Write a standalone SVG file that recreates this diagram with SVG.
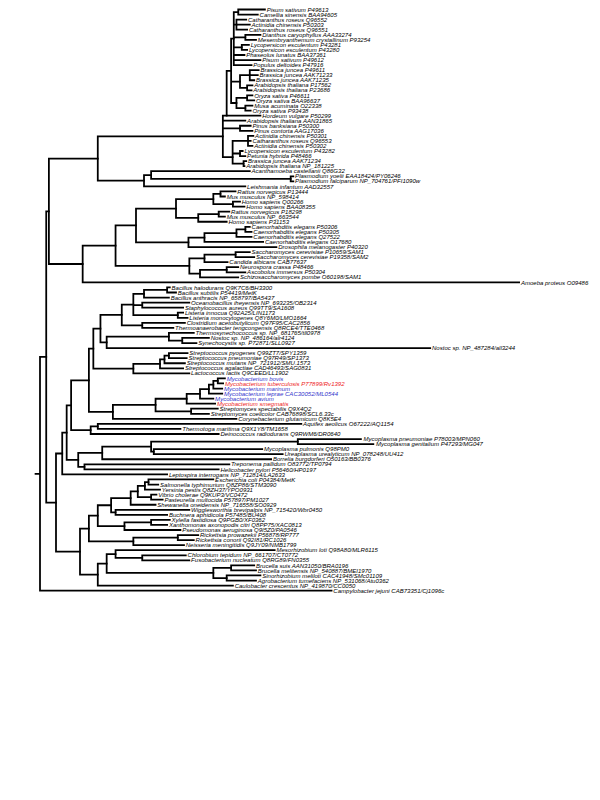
<svg xmlns="http://www.w3.org/2000/svg" width="600" height="800" viewBox="0 0 600 800">
<style>
text{font-family:"Liberation Sans",Arial,sans-serif;font-size:6.8px;font-style:italic;fill:#000}
.b{fill:#3333cc}.r{fill:#ee2222}
#connectors path{fill:none;stroke:#000;stroke-width:2;stroke-linecap:square}
</style>
<rect width="600" height="800" fill="#fff"/>
<g transform="scale(0.88889)">
<g id="connectors">
<path d="M268 10.7V16.39M268 10.7H298M268 16.39H290"/>
<path d="M266 22.07V33.44M266 22.07H277M266 27.76H281M266 33.44H278"/>
<path d="M276 39.13V44.81M276 39.13H293M276 44.81H288"/>
<path d="M272 50.5V56.18M272 50.5H280M272 56.18H278"/>
<path d="M263 13.55V73.24M263 13.55H268M263 27.76H266M263 41.97H276M263 53.34H272M263 61.87H275M263 67.55H293M263 73.24H283"/>
<path d="M281 78.92V90.29M281 78.92H291M281 84.61H290M281 90.29H286"/>
<path d="M278 95.98V101.66M278 95.98H284M278 101.66H283"/>
<path d="M270 84.6V98.82M270 84.6H281M270 98.82H278"/>
<path d="M278 107.35V113.03M278 107.35H284M278 113.03H286"/>
<path d="M276 118.72V124.4M276 118.72H284M276 124.4H282"/>
<path d="M266 110.19V121.56M266 110.19H278M266 121.56H276"/>
<path d="M260 43.4V115.88M260 43.4H263M260 91.71H270M260 115.88H266"/>
<path d="M255 79.64V130.09M255 79.64H260M255 130.09H293"/>
<path d="M250.7 130.09V176.7M250.7 130.09H255M250.7 135.77H276M250.7 144.3H270M250.7 176.7H261.7"/>
<path d="M270 141.46V147.14M270 141.46H282M270 147.14H284"/>
<path d="M279 152.83V164.2M279 152.83H285M279 158.51H282M279 164.2H284"/>
<path d="M270 169.88V175.57M270 169.88H273M270 175.57H276"/>
<path d="M274 181.25V186.94M274 181.25H277M274 186.94H275"/>
<path d="M261.7 158.5V184.1M261.7 158.5H279M261.7 172.7H270M261.7 184.1H274"/>
<path d="M327 198.31V203.99M327 198.31H330M327 203.99H330"/>
<path d="M170 192.62V201.15M170 192.62H281M170 201.15H327"/>
<path d="M162 196.9V209.68M162 196.9H170M162 209.68H276"/>
<path d="M110 153.4V203.3M110 153.4H250.7M110 203.3H162"/>
<path d="M248 215.36V221.05M248 215.36H265M248 221.05H253"/>
<path d="M262 226.73V232.42M262 226.73H270M262 232.42H275"/>
<path d="M240 218.2V229.6M240 218.2H248M240 229.6H262"/>
<path d="M246 238.1V243.79M246 238.1H258M246 243.79H253"/>
<path d="M223 240.9V249.47M223 240.9H246M223 249.47H255"/>
<path d="M198 223.9V245.2M198 223.9H240M198 245.2H223"/>
<path d="M276 255.16V260.84M276 255.16H281M276 260.84H283"/>
<path d="M266 258V266.53M266 258H276M266 266.53H283"/>
<path d="M230 262.3V272.21M230 262.3H266M230 272.21H296"/>
<path d="M212 267.3V277.9M212 267.3H230M212 277.9H311"/>
<path d="M153 234.6V272.6M153 234.6H198M153 272.6H212"/>
<path d="M265 283.58V289.27M265 283.58H281M265 289.27H286"/>
<path d="M230 286.4V294.95M230 286.4H265M230 294.95H256"/>
<path d="M255 300.64V306.32M255 300.64H268M255 306.32H276"/>
<path d="M225 303.5V312.01M225 303.5H255M225 312.01H268"/>
<path d="M213 290.7V307.8M213 290.7H230M213 307.8H225"/>
<path d="M130 253.6V299.2M130 253.6H153M130 299.2H213"/>
<path d="M93 276.4V317.69M93 276.4H130M93 317.69H584"/>
<path d="M55 178.4V297M55 178.4H110M55 297H93"/>
<path d="M188 323.38V329.06M188 323.38H191M188 329.06H198"/>
<path d="M162 326.2V334.75M162 326.2H188M162 334.75H190"/>
<path d="M160 340.43V346.12M160 340.43H213M160 346.12H206"/>
<path d="M200 351.8V357.49M200 351.8H206M200 357.49H211"/>
<path d="M150 330.5V354.6M150 330.5H162M150 343.3H160M150 354.6H200"/>
<path d="M160 363.17V368.86M160 363.17H208M160 368.86H195"/>
<path d="M137 342.6V366M137 342.6H150M137 366H160"/>
<path d="M205 380.23V385.91M205 380.23H235M205 385.91H221"/>
<path d="M190 374.54V383.1M190 374.54H218M190 383.1H205"/>
<path d="M120 378.8V391.6M120 378.8H190M120 391.6H484"/>
<path d="M113 354.3V385.2M113 354.3H137M113 385.2H120"/>
<path d="M190 397.28V402.97M190 397.28H211M190 402.97H210"/>
<path d="M185 400.1V408.65M185 400.1H190M185 408.65H208"/>
<path d="M180 404.4V414.34M180 404.4H185M180 414.34H206"/>
<path d="M150 409.4V420.02M150 409.4H180M150 420.02H213"/>
<path d="M105 369.8V414.7M105 369.8H113M105 414.7H150"/>
<path d="M245 425.71V431.39M245 425.71H253M245 431.39H251"/>
<path d="M240 428.6V437.08M240 428.6H245M240 437.08H250"/>
<path d="M235 432.8V442.76M235 432.8H240M235 442.76H250"/>
<path d="M225 437.8V448.45M225 437.8H235M225 448.45H240"/>
<path d="M210 443.1V454.13M210 443.1H225M210 454.13H242"/>
<path d="M215 459.82V465.5M215 459.82H245M215 465.5H235"/>
<path d="M175 448.6V462.7M175 448.6H210M175 462.7H215"/>
<path d="M127 455.6V471.19M127 455.6H175M127 471.19H266"/>
<path d="M100 392.3V463.4M100 392.3H105M100 463.4H127"/>
<path d="M110 476.87V482.56M110 476.87H339M110 482.56H203"/>
<path d="M102 479.7V488.24M102 479.7H110M102 488.24H246"/>
<path d="M335 493.93V499.61M335 493.93H406M335 499.61H420"/>
<path d="M173 505.3V510.98M173 505.3H295M173 510.98H318"/>
<path d="M170 496.8V508.1M170 496.8H335M170 508.1H173"/>
<path d="M115 502.5V516.67M115 502.5H170M115 516.67H305"/>
<path d="M95 522.35V528.04M95 522.35H258M95 528.04H246"/>
<path d="M88 509.6V525.2M88 509.6H115M88 525.2H95"/>
<path d="M167 539.41V545.09M167 539.41H240M167 545.09H178"/>
<path d="M163 542.3V550.78M163 542.3H167M163 550.78H180"/>
<path d="M170 556.46V562.15M170 556.46H176M170 562.15H183"/>
<path d="M155 546.5V559.3M155 546.5H163M155 559.3H170"/>
<path d="M147 552.9V567.83M147 552.9H155M147 567.83H175"/>
<path d="M130 573.52V579.2M130 573.52H213M130 579.2H188"/>
<path d="M125 560.4V576.4M125 560.4H147M125 576.4H130"/>
<path d="M170 584.89V590.57M170 584.89H191M170 590.57H188"/>
<path d="M140 587.7V596.26M140 587.7H170M140 596.26H203"/>
<path d="M110 568.4V592M110 568.4H125M110 592H140"/>
<path d="M200 601.94V607.63M200 601.94H223M200 607.63H218"/>
<path d="M150 604.8V613.31M150 604.8H200M150 613.31H207"/>
<path d="M100 580.2V609.1M100 580.2H110M100 609.1H150"/>
<path d="M260 636.05V641.74M260 636.05H286M260 641.74H288"/>
<path d="M255 647.42V653.11M255 647.42H293M255 653.11H288"/>
<path d="M240 638.9V650.3M240 638.9H260M240 650.3H255"/>
<path d="M160 624.68V630.37M160 624.68H209M160 630.37H213"/>
<path d="M130 619V627.5M130 619H309M130 627.5H160"/>
<path d="M120 623.3V644.6M120 623.3H130M120 644.6H240"/>
<path d="M110 634V658.79M110 634H120M110 658.79H262"/>
<path d="M90 594.6V646.4M90 594.6H100M90 646.4H110"/>
<path d="M80 427.9V484M80 427.9H100M80 484H102"/>
<path d="M75 456V517.4M75 456H80M75 517.4H88"/>
<path d="M70 486.7V533.72M70 486.7H75M70 533.72H188"/>
<path d="M63 510.2V620.5M63 510.2H70M63 620.5H90"/>
<path d="M52 237.7V565.4M52 237.7H55M52 565.4H63"/>
<path d="M45 401.5V664.48M45 401.5H52M45 664.48H373M40 533H45"/>
</g>
<g id="n0"><text x="300" y="13.1">Pisum sativum P49613</text></g>
<g id="n1"><text x="292" y="18.79">Camellia sinensis BAA94605</text></g>
<g id="n2"><text x="279" y="24.47">Catharanthus roseus Q96552</text></g>
<g id="n3"><text x="283" y="30.16">Actinidia chinensis P50303</text></g>
<g id="n4"><text x="280" y="35.84">Catharanthus roseus Q96551</text></g>
<g id="n5"><text x="295" y="41.53">Dianthus caryophyllus AAA33274</text></g>
<g id="n6"><text x="290" y="47.21">Mesembryanthemum crystallinum P93254</text></g>
<g id="n7"><text x="282" y="52.9">Lycopersicon esculentum P43281</text></g>
<g id="n8"><text x="280" y="58.58">Lycopersicon esculentum P43280</text></g>
<g id="n9"><text x="277" y="64.27">Phaseolus lunatus BAA37361</text></g>
<g id="n10"><text x="295" y="69.95">Pisum sativum P49612</text></g>
<g id="n11"><text x="285" y="75.64">Populus deltoides P47916</text></g>
<g id="n12"><text x="293" y="81.32">Brassica juncea P49611</text></g>
<g id="n13"><text x="292" y="87.01">Brassica juncea AAK71233</text></g>
<g id="n14"><text x="288" y="92.69">Brassica juncea AAK71235</text></g>
<g id="n15"><text x="286" y="98.38">Arabidopsis thaliana P17562</text></g>
<g id="n16"><text x="285" y="104.06">Arabidopsis thaliana P23686</text></g>
<g id="n17"><text x="286" y="109.75">Oryza sativa P46611</text></g>
<g id="n18"><text x="288" y="115.43">Oryza sativa BAA96637</text></g>
<g id="n19"><text x="286" y="121.12">Musa acuminata O22338</text></g>
<g id="n20"><text x="284" y="126.8">Oryza sativa P93438</text></g>
<g id="n21"><text x="295" y="132.49">Hordeum vulgare P50299</text></g>
<g id="n22"><text x="278" y="138.17">Arabidopsis thaliana AAN31865</text></g>
<g id="n23"><text x="284" y="143.86">Pinus banksiana P50300</text></g>
<g id="n24"><text x="286" y="149.54">Pinus contorta AAG17036</text></g>
<g id="n25"><text x="287" y="155.23">Actinidia chinensis P50301</text></g>
<g id="n26"><text x="284" y="160.91">Catharanthus roseus Q96553</text></g>
<g id="n27"><text x="286" y="166.6">Actinidia chinensis P50302</text></g>
<g id="n28"><text x="275" y="172.28">Lycopersicon esculentum P43282</text></g>
<g id="n29"><text x="278" y="177.97">Petunia hybrida P48466</text></g>
<g id="n30"><text x="279" y="183.65">Brassica juncea AAK71234</text></g>
<g id="n31"><text x="277" y="189.34">Arabidopsis thaliana NP_181225</text></g>
<g id="n32"><text x="283" y="195.02">Acanthamoeba castellanii Q86G32</text></g>
<g id="n33"><text x="332" y="200.71">Plasmodium yoelii EAA18424/PY06246</text></g>
<g id="n34"><text x="332" y="206.39">Plasmodium falciparum NP_704761/PFI1090w</text></g>
<g id="n35"><text x="278" y="212.08">Leishmania infantum AAD32557</text></g>
<g id="n36"><text x="267" y="217.76">Rattus norvegicus P13444</text></g>
<g id="n37"><text x="255" y="223.45">Mus musculus NP_598414</text></g>
<g id="n38"><text x="272" y="229.13">Homo sapiens Q00266</text></g>
<g id="n39"><text x="277" y="234.82">Homo sapiens BAA08355</text></g>
<g id="n40"><text x="260" y="240.5">Rattus norvegicus P18298</text></g>
<g id="n41"><text x="255" y="246.19">Mus musculus NP_663544</text></g>
<g id="n42"><text x="257" y="251.87">Homo sapiens P31153</text></g>
<g id="n43"><text x="283" y="257.56">Caenorhabditis elegans P50306</text></g>
<g id="n44"><text x="285" y="263.24">Caenorhabditis elegans P50305</text></g>
<g id="n45"><text x="285" y="268.93">Caenorhabditis elegans Q27522</text></g>
<g id="n46"><text x="298" y="274.61">Caenorhabditis elegans O17680</text></g>
<g id="n47"><text x="313" y="280.3">Drosophila melanogaster P40320</text></g>
<g id="n48"><text x="283" y="285.98">Saccharomyces cerevisiae P10659/SAM1</text></g>
<g id="n49"><text x="288" y="291.67">Saccharomyces cerevisiae P19358/SAM2</text></g>
<g id="n50"><text x="258" y="297.35">Candida albicans CAB77637</text></g>
<g id="n51"><text x="270" y="303.04">Neurospora crassa P48466</text></g>
<g id="n52"><text x="278" y="308.72">Ascobolus immersus P50304</text></g>
<g id="n53"><text x="270" y="314.41">Schizosaccharomyces pombe O60198/SAM1</text></g>
<g id="n54"><text x="586" y="320.09">Amoeba proteus O09486</text></g>
<g id="n55"><text x="193" y="325.78">Bacillus halodurans Q9K7C6/BH3300</text></g>
<g id="n56"><text x="200" y="331.46">Bacillus subtilis P54419/MetK</text></g>
<g id="n57"><text x="192" y="337.15">Bacillus anthracis NP_658797/BA5437</text></g>
<g id="n58"><text x="215" y="342.83">Oceanobacillus iheyensis NP_693235/OB2314</text></g>
<g id="n59"><text x="208" y="348.52">Staphylococcus aureus Q99TT9/SA1608</text></g>
<g id="n60"><text x="208" y="354.2">Listeria innocua Q92A25/LIN1173</text></g>
<g id="n61"><text x="213" y="359.89">Listeria monocytogenes Q8Y6M0/LMO1664</text></g>
<g id="n62"><text x="210" y="365.57">Clostridium acetobutylicum Q97F95/CAC2856</text></g>
<g id="n63"><text x="197" y="371.26">Thermoanaerobacter tengcongensis Q8RCE4/TTE0468</text></g>
<g id="n64"><text x="220" y="376.94">Thermosynechococcus sp. NP_681765/tll0978</text></g>
<g id="n65"><text x="237" y="382.63">Nostoc sp. NP_486164/alr4124</text></g>
<g id="n66"><text x="223" y="388.31">Synechocystis sp. P72871/SLL0927</text></g>
<g id="n67"><text x="486" y="394">Nostoc sp. NP_487284/all3244</text></g>
<g id="n68"><text x="213" y="399.68">Streptococcus pyogenes Q99ZT7/SPY1359</text></g>
<g id="n69"><text x="212" y="405.37">Streptococcus pneumoniae Q97R49/SP1373</text></g>
<g id="n70"><text x="210" y="411.05">Streptococcus mutans NP_721912/SMU.1573</text></g>
<g id="n71"><text x="208" y="416.74">Streptococcus agalactiae CAD46493/SAG0831</text></g>
<g id="n72"><text x="215" y="422.42">Lactococcus lactis Q9CEED/LL1902</text></g>
<g id="n73"><text class="b" x="255" y="428.11">Mycobacterium bovis</text></g>
<g id="n74"><text class="r" x="253" y="433.79">Mycobacterium tuberculosis P77899/Rv1392</text></g>
<g id="n75"><text class="b" x="252" y="439.48">Mycobacterium marinum</text></g>
<g id="n76"><text class="b" x="252" y="445.16">Mycobacterium leprae CAC30052/ML0544</text></g>
<g id="n77"><text class="b" x="242" y="450.85">Mycobacterium avium</text></g>
<g id="n78"><text class="r" x="244" y="456.53">Mycobacterium smegmatis</text></g>
<g id="n79"><text x="247" y="462.22">Streptomyces spectabilis Q9X4Q2</text></g>
<g id="n80"><text x="237" y="467.9">Streptomyces coelicolor CAB76898/SCL6.33c</text></g>
<g id="n81"><text x="268" y="473.59">Corynebacterium glutamicum Q8K5E4</text></g>
<g id="n82"><text x="341" y="479.27">Aquifex aeolicus O67222/AQ1154</text></g>
<g id="n83"><text x="205" y="484.96">Thermotoga maritima Q9X1Y8/TM1658</text></g>
<g id="n84"><text x="248" y="490.64">Deinococcus radiodurans Q9RWM6/DR0640</text></g>
<g id="n85"><text x="409" y="496.33">Mycoplasma pneumoniae P78003/MPN060</text></g>
<g id="n86"><text x="423" y="502.01">Mycoplasma genitalium P47293/MG047</text></g>
<g id="n87"><text x="297" y="507.7">Mycoplasma pulmonis Q98PM0</text></g>
<g id="n88"><text x="320" y="513.38">Ureaplasma urealyticum NP_078248/UU412</text></g>
<g id="n89"><text x="307" y="519.07">Borrelia burgdorferi O50163/BB0376</text></g>
<g id="n90"><text x="260" y="524.75">Treponema pallidum O83772/TP0794</text></g>
<g id="n91"><text x="248" y="530.44">Helicobacter pylori P56460/HP0197</text></g>
<g id="n92"><text x="190" y="536.12">Leptospira interrogans NP_712814/LA2633</text></g>
<g id="n93"><text x="242" y="541.81">Escherichia coli P04384/MetK</text></g>
<g id="n94"><text x="180" y="547.49">Salmonella typhimurium Q8ZP86/STM3090</text></g>
<g id="n95"><text x="182" y="553.18">Yersinia pestis Q8ZH37/YPO0931</text></g>
<g id="n96"><text x="178" y="558.86">Vibrio cholerae Q9KUP3/VC0472</text></g>
<g id="n97"><text x="185" y="564.55">Pasteurella multocida P57897/PM1027</text></g>
<g id="n98"><text x="177" y="570.23">Shewanella oneidensis NP_716558/SO0929</text></g>
<g id="n99"><text x="215" y="575.92">Wigglesworthia brevipalpis NP_715420/Wbr0450</text></g>
<g id="n100"><text x="190" y="581.6">Buchnera aphidicola P57485/BU408</text></g>
<g id="n101"><text x="193" y="587.29">Xylella fastidiosa Q9PGB0/XF0362</text></g>
<g id="n102"><text x="190" y="592.97">Xanthomonas axonopodis citri Q8PP75/XAC0813</text></g>
<g id="n103"><text x="205" y="598.66">Pseudomonas aeruginosa Q9I5Z0/PA0546</text></g>
<g id="n104"><text x="225" y="604.34">Rickettsia prowazekii P56878/RP777</text></g>
<g id="n105"><text x="220" y="610.03">Rickettsia conorii Q92I81/RC1026</text></g>
<g id="n106"><text x="209" y="615.71">Neisseria meningitidis Q9JY09/NMB1799</text></g>
<g id="n107"><text x="311" y="621.4">Mesorhizobium loti Q98A80/MLR6115</text></g>
<g id="n108"><text x="211" y="627.08">Chlorobium tepidum NP_661707/CT0772</text></g>
<g id="n109"><text x="215" y="632.77">Fusobacterium nucleatum Q8RG89/FN0355</text></g>
<g id="n110"><text x="288" y="638.45">Brucella suis AAN31050/BRA0196</text></g>
<g id="n111"><text x="290" y="644.14">Brucella melitensis NP_540887/BMEI1970</text></g>
<g id="n112"><text x="295" y="649.82">Sinorhizobium meliloti CAC41948/SMc01109</text></g>
<g id="n113"><text x="290" y="655.51">Agrobacterium tumefaciens NP_531068/Atu0362</text></g>
<g id="n114"><text x="264" y="661.19">Caulobacter crescentus NP_419870/CC0050</text></g>
<g id="n115"><text x="375" y="666.88">Campylobacter jejuni CAB73351/Cj1096c</text></g>
</g>
</svg>
